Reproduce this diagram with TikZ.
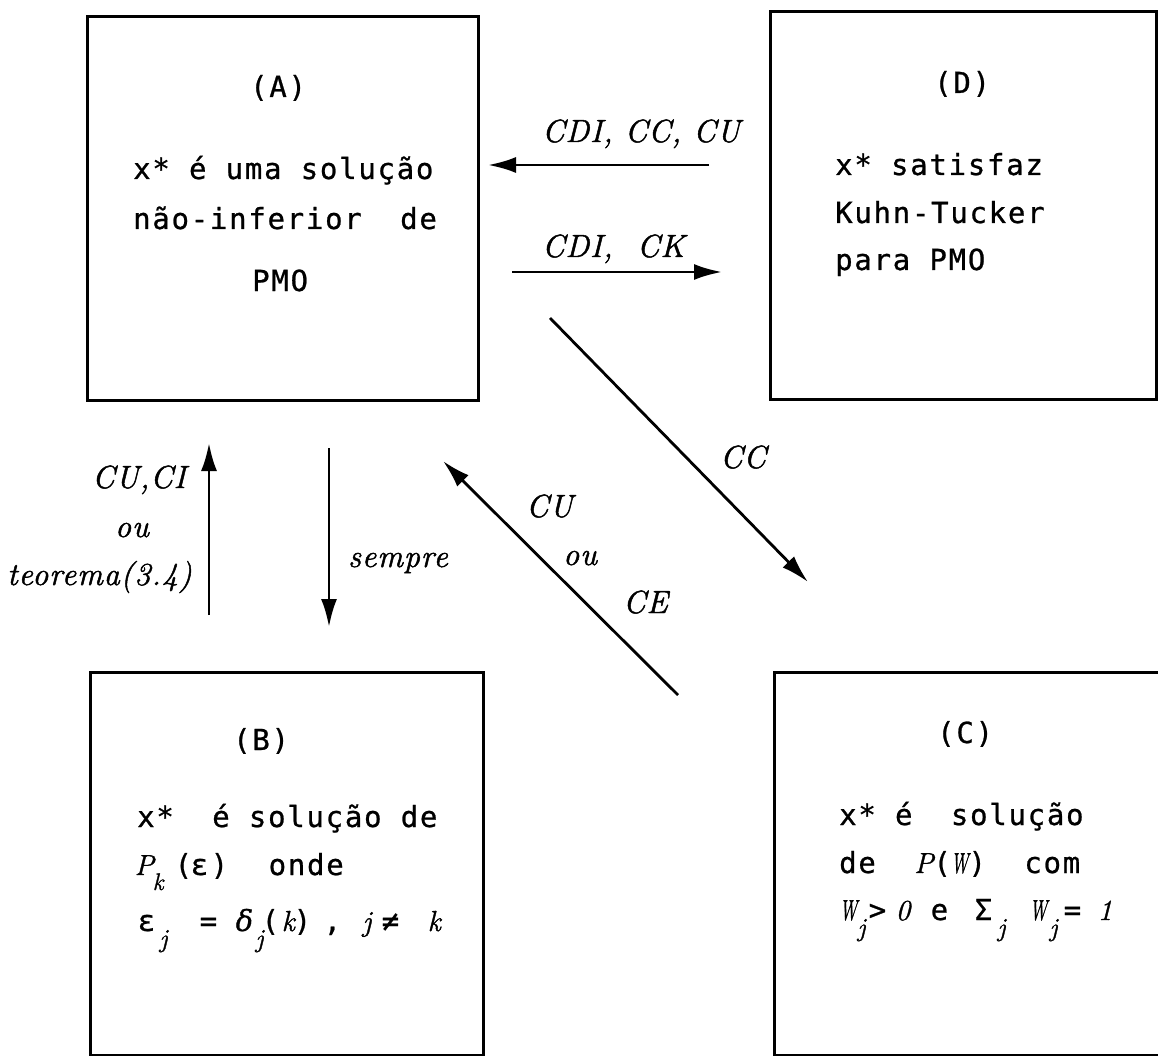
\documentclass[tikz,border=0pt]{standalone}
\usepackage{fontspec}
\usepackage{graphicx}
\usetikzlibrary{arrows.meta}
\newfontfamily\boxfont[LetterSpace=6,FakeBold=0.8]{DejaVu Sans Mono}
\newfontfamily\grkfont[FakeBold=0.8]{DejaVu Serif}
\newfontfamily\lblfont[LetterSpace=3,FakeBold=1.5]{Latin Modern Roman}
\newfontfamily\itfont[FakeBold=1.2]{Latin Modern Roman}
\newcommand\mysub[1]{\raisebox{-16pt}{\fontsize{26}{26}\selectfont #1}}
\newcommand\mysubk[1]{\raisebox{-15pt}{\fontsize{24}{24}\selectfont #1}}
\newcommand\myit[1]{{\itfont\itshape #1}}
\newcommand\mygr[1]{{\grkfont\itshape #1}}
\newcommand\narrowW{\scalebox{0.62}[1]{\myit{W}}}
\newcommand\putat[2]{\makebox[0pt][l]{\hspace{#1pt}#2}}
\tikzset{
  frame/.style={draw, line width=3.4pt, inner sep=0pt, anchor=north west},
  boxtxt/.style={anchor=base west, inner sep=0pt, font=\boxfont\fontsize{29}{34}\selectfont},
  lbl/.style={anchor=base west, inner sep=0pt, font=\lblfont\itshape\fontsize{32}{38}\selectfont},
  conn/.style={line width=2.8pt, -{Latex[length=28pt,width=16pt]}},
}
\begin{document}
\begin{tikzpicture}[x=1pt,y=-1pt]
\useasboundingbox[fill=white] (0,0) rectangle (1158,1056);
% boxes
\node[frame, minimum width=391pt, minimum height=384pt] (A) at (86,15) {};
\node[frame, minimum width=386pt, minimum height=388pt] (D) at (769,10) {};
\node[frame, minimum width=393pt, minimum height=383pt] (B) at (89,671) {};
\node[frame, minimum width=387pt, minimum height=383pt] (C) at (773,671) {};
% box A text
\node[boxtxt] (Ah) at (250,97) {(A)};
\node[boxtxt] (A1) at (133,179) {x* é uma solução};
\node[boxtxt] (A2) at (133,229) {não-inferior\ \ de};
\node[boxtxt] (A3) at (252,291) {PMO};
% box D text
\node[boxtxt] (Dh) at (934,93) {(D)};
\node[boxtxt] (D1) at (835,175) {x* satisfaz};
\node[boxtxt] (D2) at (835,223) {Kuhn-Tucker};
\node[boxtxt] (D3) at (835,270) {para PMO};
% box B text
\node[boxtxt] (Bh) at (233,750) {(B)};
\node[boxtxt] (B1) at (137,827) {x*\ \ é solução de};
\node[boxtxt] (B2) at (137,875) {\putat{-3}{\myit{P}}\putat{15}{\mysubk{\myit{k}}}\putat{37}{(}\putat{53}{ε}\putat{73}{)}\putat{131}{onde}\hspace{210pt}};
\node[boxtxt] (B3) at (137,931) {\putat{0}{ε}\putat{22}{\mysub{\myit{j}}}\putat{62}{=}\putat{98}{\mygr{δ}}\putat{118}{\mysub{\myit{j}}}\putat{124}{(}\putat{144}{\myit{k}}\putat{156}{)}\putat{186}{,}\putat{225}{\myit{j}}\putat{244}{≠}\putat{290}{\myit{k}}\hspace{310pt}};
% box C text
\node[boxtxt] (Ch) at (937,743) {(C)};
\node[boxtxt] (C1) at (839,825) {x* é\ \ solução};
\node[boxtxt] (C2) at (839,873) {de\ \ \myit{P}(\narrowW)\ \ com};
\node[boxtxt] (C3) at (839,920) {\putat{0}{\narrowW}\putat{18}{\mysub{\myit{j}}}\putat{29}{>}\putat{56}{\myit{0}}\putat{91}{e}\putat{135}{Σ}\putat{158}{\mysub{\myit{j}}}\putat{190}{\narrowW}\putat{210}{\mysub{\myit{j}}}\putat{224}{=}\putat{258}{\myit{1}}\hspace{275pt}};
% connector end points
\coordinate (daS) at (709,165);
\coordinate (daE) at (488,165);
\coordinate (adS) at (512,272);
\coordinate (adE) at (722,272);
\coordinate (baS) at (209,615);
\coordinate (baE) at (209,443);
\coordinate (abS) at (329,448);
\coordinate (abE) at (329,627);
\coordinate (caS) at (678,695);
\coordinate (caE) at (443,461);
\coordinate (acS) at (550,318);
\coordinate (acE) at (808,582);
% connectors
\draw[conn] (daS) -- (daE);
\draw[conn] (adS) -- (adE);
\draw[conn] (baS) -- (baE);
\draw[conn] (abS) -- (abE);
\draw[conn] (caS) -- (caE);
\draw[conn] (acS) -- (acE);
% labels
\node[lbl] (l1) at (542,142) {CDI, CC, CU};
\node[lbl] (l2) at (542,257) {CDI,\ \ CK};
\node[lbl, anchor=base east] (l3) at (186,488) {CU,CI};
\node[lbl, anchor=base] (l4) at (132,537) {ou};
\node[lbl] (l5) at (7,585) {teorema(3.4)};
\node[lbl] (l6) at (348,567) {sempre};
\node[lbl] (l7) at (526,517) {CU};
\node[lbl] (l8) at (563,565) {ou};
\node[lbl] (l9) at (623,613) {CE};
\node[lbl] (l10) at (720,468) {CC};
\end{tikzpicture}
\end{document}
